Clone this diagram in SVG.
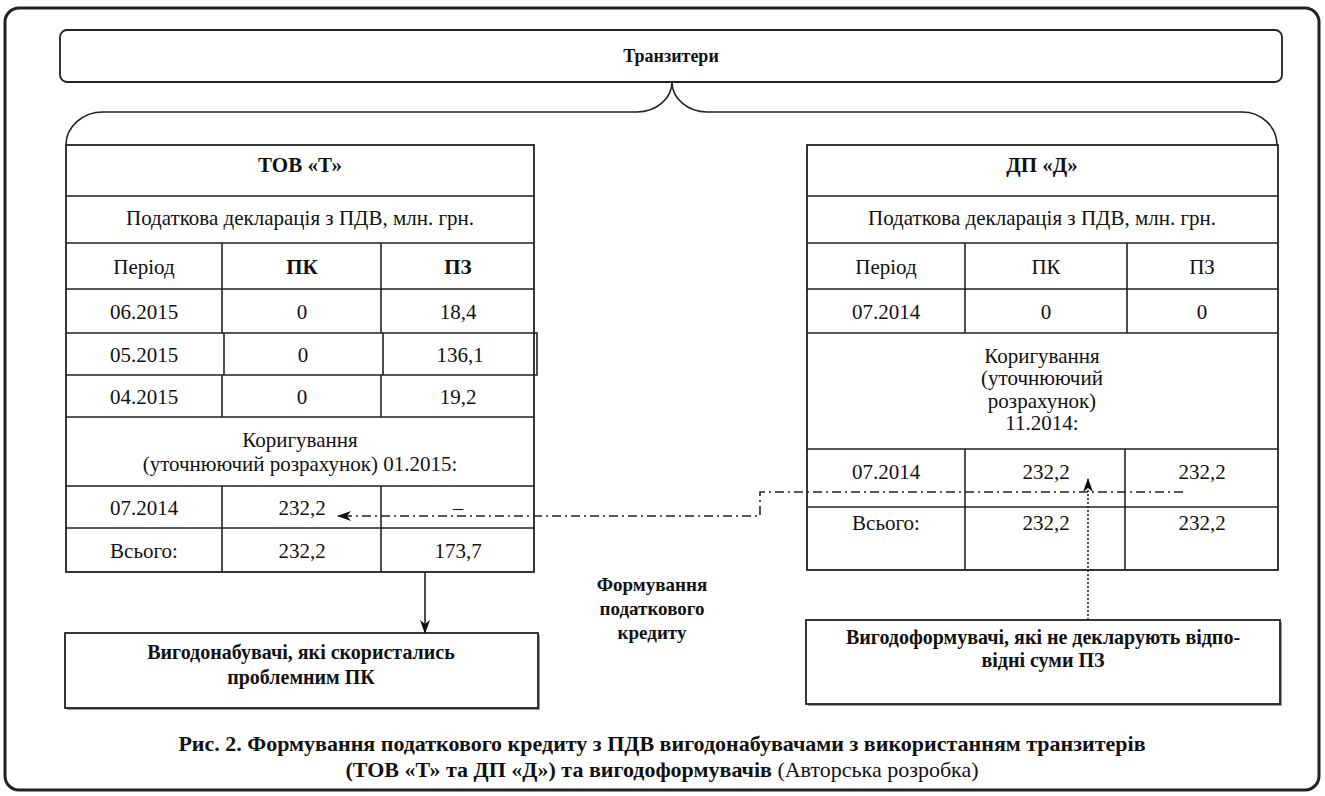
<svg xmlns="http://www.w3.org/2000/svg" width="1325" height="796" viewBox="0 0 1325 796" font-family="'Liberation Serif', 'Times New Roman', serif">
<defs>
<style>
.t{font-family:"Liberation Serif","Times New Roman",serif;font-size:21px;fill:#111;text-anchor:middle}
.b{font-weight:bold}
.ln{stroke:#222;stroke-width:1.6;fill:none}
.box{stroke:#222;stroke-width:1.8;fill:#fff}
.sh{fill:#9a9a9a;stroke:none}
</style>
<marker id="ah" viewBox="0 0 14 10" refX="13" refY="5" markerWidth="14" markerHeight="10" markerUnits="userSpaceOnUse" orient="auto">
<path d="M0,0 L14,5 L0,10 L4,5 Z" fill="#111"/>
</marker>
</defs>
<rect x="0" y="0" width="1325" height="796" fill="#fff"/>
<rect x="5" y="8" width="1314" height="782" rx="14" fill="none" stroke="#222" stroke-width="3"/>

<g id="transiters">
<rect x="60" y="30" width="1222" height="52" rx="7" class="box"/>
<text x="671" y="62" class="t b" style="font-size:18px">Транзитери</text>
<path d="M66,145 A37,33 0 0 1 103,112 H637 A35,30 0 0 0 672,82 A35,30 0 0 0 707,112 H1242 A35,33 0 0 1 1277,145" class="ln"/>
</g>

<g id="tov-t">
<rect x="66" y="145" width="468" height="427" class="box"/>
<path class="ln" d="M66,196 H534 M66,243 H534 M66,289 H534 M66,333 H534 M66,375 H534 M66,417 H534 M66,486 H534 M66,528 H534 M222,243 V333 M224,333 V375 M222,375 V417 M534,333 H537 V375 H534 M222,486 V572 M381,243 V333 M383,333 V375 M381,375 V417 M381,486 V572"/>
<text x="300" y="172" class="t b">ТОВ «Т»</text>
<text x="300" y="225" class="t">Податкова декларація з ПДВ, млн. грн.</text>
<text x="144" y="274" class="t">Період</text>
<text x="302" y="274" class="t b">ПК</text>
<text x="458" y="274" class="t b">ПЗ</text>
<text x="144" y="319" class="t">06.2015</text>
<text x="302" y="319" class="t">0</text>
<text x="458" y="319" class="t">18,4</text>
<text x="144" y="362" class="t">05.2015</text>
<text x="303" y="362" class="t">0</text>
<text x="460" y="362" class="t">136,1</text>
<text x="144" y="404" class="t">04.2015</text>
<text x="302" y="404" class="t">0</text>
<text x="458" y="404" class="t">19,2</text>
<text x="300" y="447" class="t">Коригування</text>
<text x="300" y="471" class="t">(уточнюючий розрахунок) 01.2015:</text>
<text x="144" y="515" class="t">07.2014</text>
<text x="302" y="515" class="t">232,2</text>
<text x="458" y="515" class="t">–</text>
<text x="144" y="558" class="t">Всього:</text>
<text x="302" y="558" class="t">232,2</text>
<text x="458" y="558" class="t">173,7</text>
</g>

<g id="dp-d">
<rect x="807" y="145" width="471" height="425" class="box"/>
<path class="ln" d="M807,196 H1278 M807,243 H1278 M807,289 H1278 M807,333 H1278 M807,449 H1278 M807,507 H1278 M965,243 V333 M1127,243 V333 M965,449 V570 M1125,449 V570"/>
<text x="1042" y="172" class="t b">ДП «Д»</text>
<text x="1042" y="225" class="t">Податкова декларація з ПДВ, млн. грн.</text>
<text x="886" y="274" class="t">Період</text>
<text x="1046" y="274" class="t">ПК</text>
<text x="1202" y="274" class="t">ПЗ</text>
<text x="886" y="319" class="t">07.2014</text>
<text x="1046" y="319" class="t">0</text>
<text x="1202" y="319" class="t">0</text>
<text x="1042" y="363" class="t">Коригування</text>
<text x="1042" y="385" class="t">(уточнюючий</text>
<text x="1042" y="408" class="t">розрахунок)</text>
<text x="1042" y="430" class="t">11.2014:</text>
<text x="886" y="479" class="t">07.2014</text>
<text x="1046" y="479" class="t">232,2</text>
<text x="1202" y="479" class="t">232,2</text>
<text x="886" y="530" class="t">Всього:</text>
<text x="1046" y="530" class="t">232,2</text>
<text x="1202" y="530" class="t">232,2</text>
</g>

<g id="beneficiaries">
<rect x="67" y="635" width="473" height="75" class="sh"/>
<rect x="65" y="633" width="473" height="75" class="box"/>
<text x="301" y="659" class="t b" style="font-size:20px">Вигодонабувачі, які скористались</text>
<text x="301" y="684" class="t b" style="font-size:20px">проблемним ПК</text>
</g>

<g id="formers">
<rect x="808" y="622" width="474" height="84" class="sh"/>
<rect x="806" y="620" width="474" height="84" class="box"/>
<text x="1043" y="644" class="t b" style="font-size:20px">Вигодоформувачі, які не декларують відпо-</text>
<text x="1043" y="667" class="t b" style="font-size:20px">відні суми ПЗ</text>
</g>

<g id="label-formation">
<text x="652" y="591" class="t b" style="font-size:19px">Формування</text>
<text x="652" y="615" class="t b" style="font-size:19px">податкового</text>
<text x="652" y="639" class="t b" style="font-size:19px">кредиту</text>
</g>

<g id="connectors">
<path d="M425,572 V633" class="ln" marker-end="url(#ah)"/>
<path d="M1183,492 H760 V516 H338" class="ln" stroke-width="1.4" stroke-dasharray="9,4,2,4" marker-end="url(#ah)"/>
<path d="M1088,620 V479" class="ln" stroke-width="1.6" stroke-dasharray="2,2" marker-end="url(#ah)"/>
</g>

<g id="caption">
<text x="662" y="751" class="t b" style="font-size:22px">Рис. 2. Формування податкового кредиту з ПДВ вигодонабувачами з використанням транзитерів</text>
<text x="662" y="777" class="t" style="font-size:22px"><tspan class="b">(ТОВ «Т» та ДП «Д») та вигодоформувачів</tspan> (Авторська розробка)</text>
</g>
</svg>
